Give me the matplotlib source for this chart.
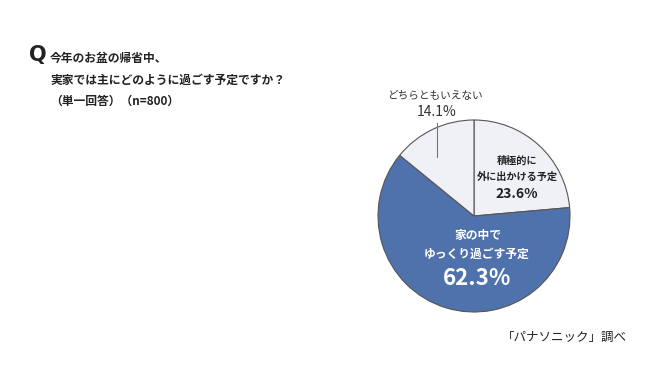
import matplotlib
matplotlib.use("Agg")
import matplotlib.pyplot as plt

plt.rcParams['font.family'] = ['Noto Sans CJK JP', 'DejaVu Sans']

labels = ["積極的に\n外に出かける予定", "家の中で\nゆっくり過ごす予定", "どちらともいえない"]
values = [23.6, 62.3, 14.1]
colors = ["#f0f1f7", "#4f72ad", "#f0f1f7"]

W, H = 650, 366
fig = plt.figure(figsize=(W / 100, H / 100), dpi=100)
fig.patch.set_facecolor("white")

cx, cy, r = 474, 216, 96
ax = fig.add_axes([(cx - r) / W, 1 - (cy + r) / H, 2 * r / W, 2 * r / H])
ax.pie(values, colors=colors, startangle=90, counterclock=False,
       wedgeprops=dict(edgecolor="#555555", linewidth=0.8))
ax.set_xlim(-1, 1)
ax.set_ylim(-1, 1)
ax.set_aspect("equal")
ax.axis("off")

# labels
ax.text(0.448, 0.573, "積極的に", ha="center", va="center", fontsize=7.3, fontweight="bold", color="#222222")
ax.text(0.448, 0.406, "外に出かける予定", ha="center", va="center", fontsize=7.3, fontweight="bold", color="#222222")
ax.text(0.448, 0.229, f"{values[0]}%", ha="center", va="center", fontsize=10, fontweight="bold", color="#222222")

ax.text(0.04, -0.208, "家の中で", ha="center", va="center", fontsize=8.5, fontweight="bold", color="white")
ax.text(0.03, -0.396, "ゆっくり過ごす予定", ha="center", va="center", fontsize=8.5, fontweight="bold", color="white")
ax.text(0.03, -0.646, f"{values[1]}%", ha="center", va="center", fontsize=16, fontweight="bold", color="white")

ax.text(-0.406, 1.25, "どちらともいえない", ha="center", va="center", fontsize=7.7, color="#333333", clip_on=False)
ax.text(-0.385, 1.083, f"{values[2]}%", ha="center", va="center", fontsize=10, color="#333333", clip_on=False)
ax.plot([-0.385, -0.385], [0.969, 0.615], color="#777777", linewidth=0.8, clip_on=False)

# title
fig.text(29 / W, 1 - 55 / H, "Q", ha="left", va="center", fontsize=15, fontweight="bold", color="#222222",
         family=["DejaVu Sans"])
fig.text(50 / W, 1 - 58 / H, "今年のお盆の帰省中、", ha="left", va="center", fontsize=8.5, fontweight="bold", color="#222222")
fig.text(50 / W, 1 - 80 / H, "実家では主にどのように過ごす予定ですか？", ha="left", va="center", fontsize=8.5, fontweight="bold", color="#222222")
fig.text(50 / W, 1 - 101 / H, "（単一回答）（n=800）", ha="left", va="center", fontsize=8.5, fontweight="bold", color="#222222")

fig.text(627 / W, 1 - 337 / H, "「パナソニック」調べ", ha="right", va="center", fontsize=9, color="#222222")

fig.savefig("out.png", dpi=100)
